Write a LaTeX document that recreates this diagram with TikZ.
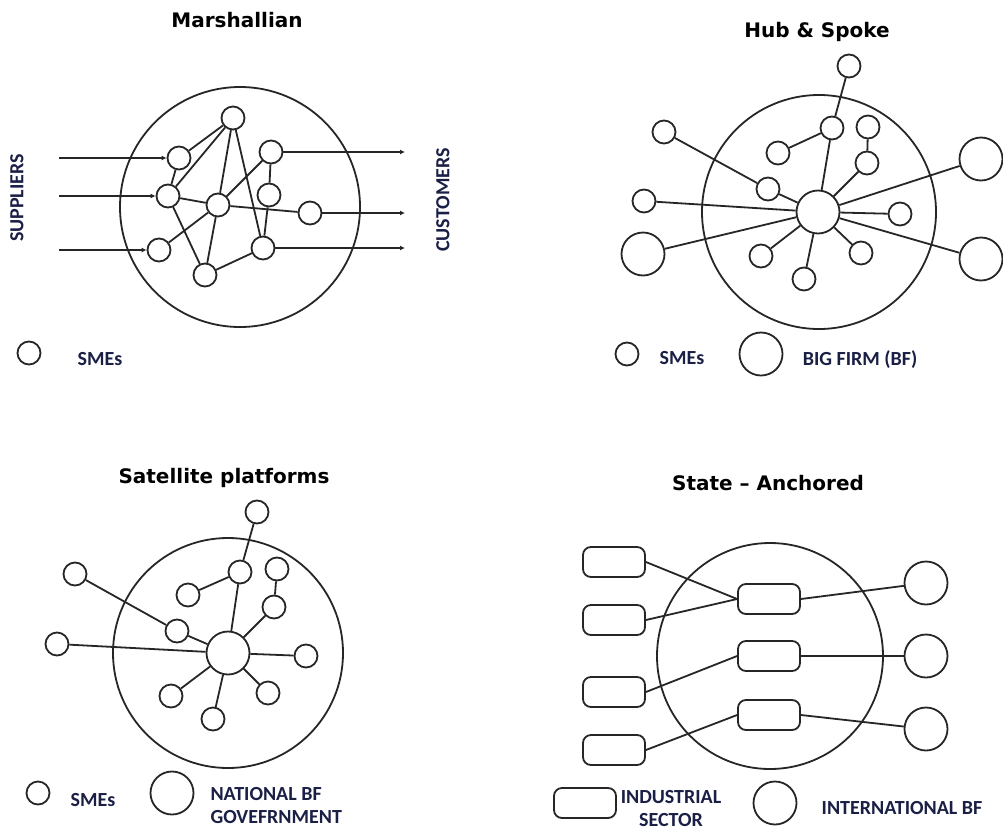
\documentclass[tikz,border=0pt]{standalone}
\usepackage{fontspec}
\setmainfont{Carlito}
\newfontfamily\ttlfont{DejaVu Sans}
\usetikzlibrary{arrows.meta}
\definecolor{linec}{HTML}{262626}
\definecolor{labc}{HTML}{1A1F45}
\tikzset{
  ln/.style={line width=1.8pt,linec},
  ar/.style={ln,-{Latex[length=5pt,width=5pt]}},
  zone/.style={circle,draw=linec,line width=1.8pt,inner sep=0pt},
  sme/.style={circle,draw=linec,line width=1.8pt,fill=white,minimum size=23pt,inner sep=0pt},
  bf/.style={sme,minimum size=43pt},
  sec/.style={rectangle,rounded corners=8pt,draw=linec,line width=1.8pt,fill=white,minimum width=62pt,minimum height=30pt,inner sep=0pt},
  ttl/.style={font=\ttlfont\bfseries\fontsize{20}{24}\selectfont},
  lab/.style={font=\bfseries\fontsize{20}{23}\selectfont,text=labc}
}

\begin{document}
\begin{tikzpicture}[x=1pt,y=-1pt]
\useasboundingbox (0,0) rectangle (1003,830);
\fill[white] (0,0) rectangle (1003,830);

% --- Marshallian district
\node[ttl] (t1) at (237,20) {Marshallian};
\node[zone,minimum size=240pt] (MZ) at (240,207) {};
\node[sme] (m1) at (233,118) {}; \node[sme] (m2) at (179,158) {}; \node[sme] (m3) at (168,196) {};
\node[sme] (m4) at (218,205) {}; \node[sme] (m5) at (159,250) {}; \node[sme] (m6) at (205,275) {};
\node[sme] (m7) at (271,152) {}; \node[sme] (m8) at (269,195) {}; \node[sme] (m9) at (310,213) {};
\node[sme] (m10) at (263,248) {};
\foreach \a/\b in {m1/m2,m1/m3,m1/m4,m1/m10,m2/m3,m3/m4,m3/m6,m4/m7,m4/m9,m4/m5,m4/m6,m7/m8,m8/m10,m6/m10}
  \draw[ln] (\a) -- (\b);
\coordinate (s1) at (59,158); \coordinate (s2) at (59,196); \coordinate (s3) at (59,250);
\coordinate (c1) at (405,152); \coordinate (c2) at (405,213); \coordinate (c3) at (405,248);
\draw[ar] (s1) -- (m2); \draw[ar] (s2) -- (m3); \draw[ar] (s3) -- (m5);
\draw[ar] (m7) -- (c1); \draw[ar] (m9) -- (c2); \draw[ar] (m10) -- (c3);
\node[lab,rotate=90] (sup) at (17,198) {SUPPLIERS};
\node[lab,rotate=90] (cus) at (443,200) {CUSTOMERS};
\node[sme] (k1) at (29,353) {}; \node[lab] (k1t) at (100,359) {SMEs};

% --- Hub & Spoke
\node[ttl] (t2) at (817,32) {Hub \& Spoke};
\node[zone,minimum size=234pt] (HZ) at (819,212) {};
\node[bf] (H) at (818,212) {};
\node[sme] (ha) at (849,66) {}; \node[sme] (hb) at (832,128) {}; \node[sme] (hc) at (778,153) {};
\node[sme] (hd) at (868,127) {}; \node[sme] (he) at (867,163) {}; \node[sme] (hf) at (768,189) {};
\node[sme] (hg) at (664,132) {}; \node[sme] (hh) at (644,201) {}; \node[sme] (hi) at (900,214) {};
\node[sme] (hj) at (761,256) {}; \node[sme] (hk) at (804,279) {}; \node[sme] (hl) at (861,253) {};
\node[bf] (hBL) at (643,254) {}; \node[bf] (hTR) at (981,159) {}; \node[bf] (hBR) at (981,259) {};
\foreach \a/\b in {ha/hb,hb/hc,hb/H,hd/he,he/H,hg/hf,hf/H,hh/H,hi/H,hj/H,hk/H,hl/H,hBL/H,hTR/H,hBR/H}
  \draw[ln] (\a) -- (\b);
\node[sme] (k2) at (627,354) {}; \node[lab] (k2t) at (682,358) {SMEs};
\node[bf] (k3) at (761,354) {}; \node[lab] (k3t) at (860,360) {BIG FIRM (BF)};

% --- Satellite platforms
\node[ttl] (t3) at (224,478) {Satellite platforms};
\node[zone,minimum size=230pt] (SZ) at (228,653) {};
\node[bf] (S) at (228,653) {};
\node[sme] (sa) at (257,512) {}; \node[sme] (sb) at (240,572) {}; \node[sme] (sc) at (188,595) {};
\node[sme] (sd) at (277,569) {}; \node[sme] (se) at (274,607) {}; \node[sme] (sf) at (177,631) {};
\node[sme] (sg) at (75,574) {}; \node[sme] (sh) at (57,644) {}; \node[sme] (si) at (306,656) {};
\node[sme] (sj) at (171,696) {}; \node[sme] (sk) at (213,719) {}; \node[sme] (sl) at (268,693) {};
\foreach \a/\b in {sa/sb,sb/sc,sb/S,sd/se,se/S,sg/sf,sf/S,sh/S,si/S,sj/S,sk/S,sl/S}
  \draw[ln] (\a) -- (\b);
\node[sme] (k4) at (38,793) {}; \node[lab] (k4t) at (93,800) {SMEs};
\node[bf] (k5) at (172,793) {};
\node[lab,anchor=west,align=left] (k5t) at (207,805) {NATIONAL BF\\GOVEFRNMENT};

% --- State - Anchored
\node[ttl] (t4) at (768,483) {State – Anchored};
\node[zone,minimum size=226pt] (AZ) at (770,656) {};
\node[sec] (L1) at (614,562) {}; \node[sec] (L2) at (614,620) {};
\node[sec] (L3) at (614,692) {}; \node[sec] (L4) at (614,750) {};
\node[sec] (C1) at (769,599) {}; \node[sec] (C2) at (769,656) {}; \node[sec] (C3) at (769,715) {};
\node[bf] (R1) at (926,583) {}; \node[bf] (R2) at (926,656) {}; \node[bf] (R3) at (926,729) {};
\draw[ln] (L1.east) -- (C1.west); \draw[ln] (L2.east) -- (C1.west);
\draw[ln] (L3.east) -- (C2.west); \draw[ln] (L4.east) -- (C3.west);
\draw[ln] (C1.east) -- (R1); \draw[ln] (C2.east) -- (R2); \draw[ln] (C3.east) -- (R3);
\node[sec] (k6) at (585,803) {};
\node[lab,align=center] (k6t) at (671,808) {INDUSTRIAL\\SECTOR};
\node[bf] (k7) at (775,803) {}; \node[lab] (k7t) at (902,808) {INTERNATIONAL BF};
\end{tikzpicture}
\end{document}
